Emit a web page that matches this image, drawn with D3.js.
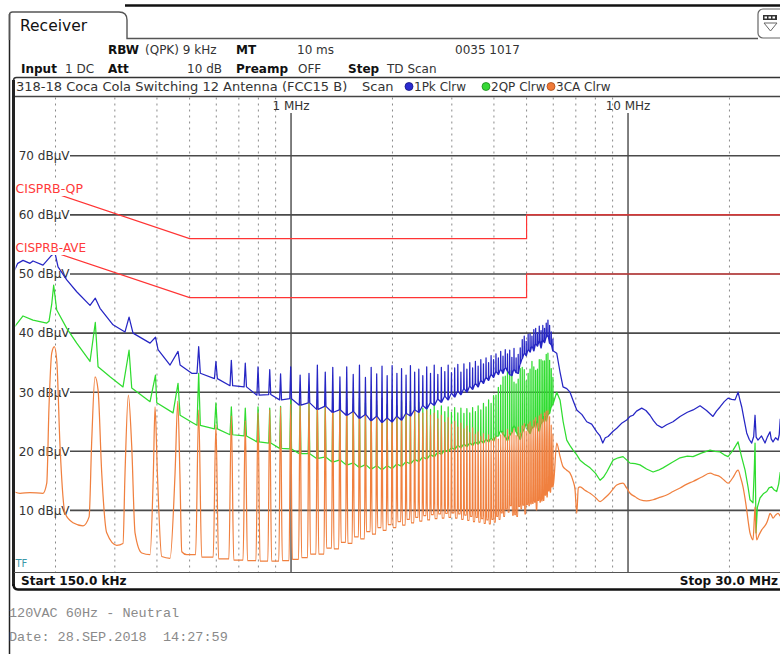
<!DOCTYPE html>
<html><head><meta charset="utf-8">
<script src="https://cdn.jsdelivr.net/npm/d3@7/dist/d3.min.js"></script>
<style>
html,body{margin:0;padding:0;background:#fff;}
svg{display:block;}
</style></head><body>
<svg id="c" width="780" height="654"></svg>
<script>
// ---------------- DATA ----------------
const yTicks = [10, 20, 30, 40, 50, 60, 70];
const yTickLabels = ["10 dBµV", "20 dBµV", "30 dBµV", "40 dBµV", "50 dBµV", "60 dBµV", "70 dBµV"];
const majorFreqs = [1, 10];
const majorFreqLabels = ["1 MHz", "10 MHz"];
const minorFreqs = [0.2, 0.3, 0.4, 0.5, 0.6, 0.7, 0.8, 0.9, 2, 3, 4, 5, 6, 7, 8, 9, 20];

const qpLimit = [[0.15, 66], [0.5, 56], [5, 56], [5, 60], [30, 60]];
const aveLimit = [[0.15, 56], [0.5, 46], [5, 46], [5, 50], [30, 50]];

// switching harmonics (fundamental read from spike spacing), harmonics 8..90
const fundamentalMHz = 0.0665;
const harmonicFirst = 8;

// 1Pk Clrw (blue)
const pkLow = [[0.150,50.2],[0.1545,51.8],[0.1602,52.3],[0.168,51.8],[0.1715,52.2],[0.1836,51.5],[0.1949,53.2],[0.1994,53.5],[0.2035,51.2],[0.2160,49.0],[0.2312,47.0],[0.2532,44.7],[0.2625,45.9],[0.2711,44.2],[0.2963,41.4],[0.3216,40.2],[0.3306,42.7],[0.3397,40.0],[0.3816,38.3],[0.3960,39.3],[0.4030,37.2],[0.4375,34.6],[0.4620,36.9],[0.4685,34.6],[0.5073,33.2]];
const pkTop = [37.7,35.2,35.4,34.9,34.3,33.8,33.1,34.3,32.9,33.2,
  34.6,33.4,34.2,32.6,34.3,33.0,34.6,32.5,34.2,33.1,
  34.4,32.8,34.5,33.2,34.0,32.9,34.5,33.4,33.9,32.8,
  34.3,33.2,34.6,33.0,34.2,33.5,34.6,33.3,34.1,34.7,
  33.4,34.8,33.9,35.0,34.1,35.2,34.4,35.5,34.8,35.8,
  35.0,36.2,35.5,36.5,35.8,36.9,36.1,37.2,36.5,37.1,
  35.9,37.4,35.8,36.4,37.5,38.9,39.5,38.6,39.8,39.9,
  39.5,40.6,40.8,40.1,41.2,40.4,41.3,40.8,41.7,42.2,
  41.3,40.2,39.0];
const pkBase = [33.2,32.3,31.1,30.9,29.5,29.6,28.7,28.9,27.8,28.2,
  27.1,27.6,26.6,27.0,26.1,26.7,25.6,26.2,25.2,25.9,
  24.9,25.6,25.0,25.9,25.3,26.4,26.0,27.0,26.6,27.7,
  27.2,28.2,27.8,28.8,28.3,29.3,28.7,29.8,29.2,30.2,
  29.6,30.6,30.0,31.0,30.5,31.5,30.9,32.0,31.5,32.5,
  32.0,33.0,32.5,33.5,33.0,33.9,33.2,34.2,33.6,33.0,
  32.8,33.9,33.3,33.2,34.8,35.7,36.6,36.2,37.2,36.8,
  37.8,37.0,38.2,37.8,38.7,37.5,38.8,38.4,39.3,39.6,
  38.3,38.0,37.0];
const pkHigh = [[6.143,36.6],[6.28,33.5],[6.414,30.9],[6.58,30.6],[6.729,30.0],[6.87,28.6],[7.045,27.0],[7.3,26.2],[7.543,25.0],[7.8,24.6],[8.077,23.3],[8.26,22.6],[8.415,21.4],[8.56,22.3],[8.725,22.5],[9.03,23.4],[9.258,23.9],[9.6,24.8],[9.911,25.3],[10.14,25.9],[10.35,26.1],[10.6,26.8],[10.98,27.3],[11.3,26.9],[11.62,26.1],[11.9,25.2],[12.17,24.5],[12.6,24.0],[13.02,24.5],[13.6,25.0],[14.27,25.9],[15.0,26.6],[15.6,27.0],[16.36,27.7],[17.1,26.9],[17.87,25.9],[18.3,26.8],[18.75,27.5],[19.3,28.4],[19.81,29.0],[20.3,28.8],[20.78,28.7],[21.21,30.0],[21.5,28.6],[21.75,27.5],[22.1,25.4],[22.5,23.1],[22.9,22.0],[23.28,21.4],[23.6,22.5],[23.82,26.1],[24.0,22.4],[24.31,21.9],[24.9,22.6],[25.5,21.4],[25.9,22.4],[26.39,23.3],[26.6,22.1],[26.93,21.6],[27.4,22.3],[27.87,21.9],[28.1,22.8],[28.3,25.5]];

// 2QP Clrw (green)
const qpLow = [[0.150,40.8],[0.1602,42.9],[0.1715,42.2],[0.1884,41.7],[0.1913,42.0],[0.1950,45.0],[0.1975,48.1],[0.2017,43.9],[0.2160,40.8],[0.2312,38.3],[0.2532,35.2],[0.2625,41.8],[0.2675,34.3],[0.2903,32.6],[0.3172,30.9],[0.3306,37.1],[0.3367,30.7],[0.3816,28.4],[0.3960,32.9],[0.3995,28.2],[0.4466,26.5],[0.4620,31.5],[0.4685,26.1],[0.5119,24.8]];
const qpTop = [33.2,28.2,27.5,27.3,27.5,27.3,27.6,28.7,28.2,28.5,
  28.8,28.0,29.0,28.1,28.9,27.9,29.0,28.2,28.8,27.8,
  28.9,28.0,28.7,27.7,28.6,27.6,28.5,27.5,28.3,27.3,
  28.1,27.1,27.9,26.9,27.7,26.7,27.5,26.6,27.4,26.5,
  27.3,26.4,27.2,26.5,27.4,26.7,27.7,27.0,28.1,27.5,
  28.7,28.1,29.4,29.5,30.8,31.2,32.6,32.7,33.8,33.7,
  33.4,31.7,31.4,32.2,34.0,34.2,33.8,31.9,33.2,33.9,
  35.2,34.3,33.7,33.9,35.5,35.5,35.3,35.3,36.4,36.6,
  35.4,34.0,32.5];
const qpBase = [24.4,23.8,22.8,22.6,21.6,21.4,20.5,20.4,19.6,19.6,
  18.8,19.0,18.2,18.5,17.7,18.0,17.3,17.7,17.0,17.5,
  16.9,17.5,17.1,17.8,17.5,18.2,17.9,18.6,18.3,19.0,
  18.7,19.4,19.1,19.8,19.5,20.2,19.9,20.6,20.3,21.0,
  20.6,21.2,20.8,21.4,21.0,21.6,21.2,21.8,21.4,22.0,
  21.6,22.2,21.8,22.5,22.6,23.5,22.9,22.4,21.8,22.7,
  23.1,24.4,23.3,22.6,22.0,23.2,23.8,24.7,23.5,23.0,
  23.9,24.1,25.2,23.9,23.4,24.7,25.0,26.0,25.1,26.2,
  26.4,27.5,28.0];
const qpHigh = [[6.143,30.0],[6.284,28.7],[6.42,25.0],[6.579,21.9],[6.72,21.0],[6.869,20.2],[7.045,19.4],[7.206,18.5],[7.45,17.8],[7.716,17.2],[8.0,16.3],[8.261,15.1],[8.45,15.6],[8.647,16.5],[9.027,18.5],[9.35,18.9],[9.665,19.1],[10.14,18.0],[10.5,17.9],[10.85,17.7],[11.35,17.0],[11.87,16.5],[12.3,16.8],[12.70,17.2],[13.5,18.1],[14.27,18.9],[15.0,19.2],[15.59,19.1],[16.5,19.7],[17.52,20.2],[18.1,20.0],[18.75,19.9],[19.3,19.4],[19.81,19.1],[20.5,20.2],[21.21,21.6],[21.7,19.2],[22.25,16.8],[22.7,14.0],[23.01,11.8],[23.49,11.3],[23.70,17.0],[23.82,21.4],[23.90,14.0],[23.98,6.2],[24.2,10.5],[24.64,12.1],[25.2,12.8],[25.80,13.2],[26.2,13.8],[26.69,14.0],[27.1,13.5],[27.62,13.2],[28.0,14.5],[28.3,16.5]];

// 3CA Clrw (orange)
const caLow = [[0.150,13.2],[0.157,12.9],[0.168,13.0],[0.1836,12.9],[0.1884,14.6],[0.1913,27.5],[0.1949,36.6],[0.1984,37.7],[0.2017,35.4],[0.2063,20.8],[0.2135,9.5],[0.2254,7.9],[0.2414,7.4],[0.2516,8.9],[0.2562,21.9],[0.2620,32.6],[0.2675,30.4],[0.2743,16.3],[0.2838,6.2],[0.3039,4.1],[0.3172,4.4],[0.3216,16.3],[0.3290,29.5],[0.3367,20.8],[0.3444,6.2],[0.3606,2.8],[0.3816,2.5],[0.3903,16.3],[0.3948,27.5],[0.4012,16.3],[0.4133,2.2],[0.4375,1.9],[0.4527,16.3],[0.4612,28.5],[0.4680,16.0],[0.4740,3.0],[0.4903,2.5]];
const caTop = [27.0,24.5,26.0,25.2,26.5,27.0,27.5,28.0,28.6,29.0,
  29.4,28.8,30.0,29.2,29.9,29.1,29.8,28.8,29.4,28.6,
  29.1,28.0,28.9,27.8,28.4,27.4,27.9,27.1,27.5,26.6,
  27.0,26.2,26.6,25.6,26.2,25.0,25.8,24.7,25.2,24.2,
  24.9,23.9,24.4,23.3,24.1,23.0,23.4,22.6,23.1,22.2,
  22.9,22.0,22.3,22.6,22.2,22.9,23.3,22.6,23.8,22.9,
  23.3,23.9,22.8,24.2,23.2,24.4,24.8,23.5,24.7,25.1,
  24.3,25.4,25.8,24.8,26.1,26.4,25.5,26.6,26.9,27.0,
  26.0,24.5,23.0];
const caBase = [2.5,2.1,1.8,1.6,1.5,1.4,1.4,1.5,1.7,2.0,
  2.6,2.6,3.6,3.5,4.6,4.4,5.5,5.2,6.4,6.0,
  7.1,6.6,7.6,7.1,8.1,7.5,8.5,7.9,8.8,8.2,
  9.1,8.4,9.3,8.6,9.4,8.7,9.5,8.8,9.6,8.7,
  9.4,8.5,9.2,8.3,9.0,8.1,8.8,8.0,8.6,7.8,
  8.4,7.7,8.5,8.0,9.0,8.5,9.6,9.0,10.2,9.7,
  10.8,9.2,9.3,9.0,10.7,10.3,10.9,9.4,11.0,10.8,
  11.1,11.2,11.4,10.1,11.7,11.4,11.6,11.7,12.6,12.3,
  13.3,13.1,14.0];
const caHigh = [[6.143,21.4],[6.28,19.2],[6.414,17.4],[6.58,16.8],[6.729,16.3],[6.869,15.0],[6.963,13.5],[7.045,9.5],[7.12,13.8],[7.206,14.0],[7.45,13.4],[7.716,12.9],[8.0,12.2],[8.261,11.5],[8.5,12.0],[8.725,12.6],[9.027,13.6],[9.258,14.3],[9.665,14.6],[9.9,13.8],[10.14,12.9],[10.5,12.3],[10.85,11.8],[11.35,11.6],[11.87,11.8],[12.4,12.2],[13.02,12.6],[13.6,13.2],[14.27,13.8],[14.9,14.4],[15.59,14.9],[16.5,15.6],[17.52,16.3],[18.1,16.0],[18.75,15.7],[19.3,15.1],[19.81,14.6],[20.5,15.6],[21.21,16.8],[21.6,15.5],[21.94,14.0],[22.25,12.0],[22.50,10.1],[22.75,8.0],[23.01,6.2],[23.25,5.4],[23.49,5.0],[23.70,8.5],[23.82,10.6],[23.95,7.0],[24.09,5.0],[24.5,5.9],[24.93,6.7],[25.4,7.3],[25.80,7.9],[26.1,8.7],[26.39,9.5],[26.65,9.2],[26.93,8.7],[27.4,9.2],[27.87,9.5],[28.3,9.0]];

// ---------------- DRAW ----------------
const svg = d3.select("#c");
const W = 780;
const x = d3.scaleLog().domain([0.15, 30]).range([13.4, 788.8]);
const y = d3.scaleLinear().domain([0, 80]).range([569.5, 96.7]);
const plotTop = 96.5, plotBot = 572, plotLeft = 14.5;

const FONT = "'DejaVu Sans', Verdana, sans-serif";

// outer frame
svg.append("line").attr("x1", 9.5).attr("x2", 9.5).attr("y1", 14).attr("y2", 654)
  .attr("stroke", "#222").attr("stroke-width", 1.5);
svg.append("line").attr("x1", 125).attr("x2", W).attr("y1", 5.5).attr("y2", 5.5)
  .attr("stroke", "#111").attr("stroke-width", 2.5);
// tab
svg.append("path").attr("d", "M9.5,40 L9.5,15 Q9.5,12 12.5,12 L119,12 Q127,12 127,20 L127,38.5 L758,38.5")
  .attr("fill", "none").attr("stroke", "#555").attr("stroke-width", 1.4);
svg.append("text").attr("x", 20).attr("y", 31).attr("font-family", FONT).attr("font-size", 15.5)
  .attr("fill", "#111").text("Receiver");
// icon
svg.append("rect").attr("x", 758).attr("y", 9).attr("width", 28).attr("height", 29).attr("rx", 5)
  .attr("fill", "#fff").attr("stroke", "#666").attr("stroke-width", 1.2);
svg.append("rect").attr("x", 763).attr("y", 15).attr("width", 14).attr("height", 5).attr("fill", "#333");
[764.5, 768.5, 772.5].forEach(cx => svg.append("rect").attr("x", cx).attr("y", 16.5).attr("width", 2.5).attr("height", 2).attr("fill", "#fff"));
svg.append("path").attr("d", "M764,23 L777,23 L770.5,31 Z").attr("fill", "none").attr("stroke", "#666").attr("stroke-width", 1);

// header rows
function txt(xp, yp, s, opt = {}) {
  return svg.append("text").attr("x", xp).attr("y", yp).attr("font-family", opt.family || FONT)
    .attr("font-size", opt.size || 12).attr("font-weight", opt.bold ? "bold" : "normal")
    .attr("fill", opt.fill || "#333").attr("text-anchor", opt.anchor || "start").text(s);
}
txt(108, 54, "RBW", {bold: true, fill: "#111"});
txt(145, 54, "(QPK) 9 kHz");
txt(236, 54, "MT", {bold: true, fill: "#111"});
txt(297, 54, "10 ms");
txt(455, 54, "0035 1017");
txt(21, 73, "Input", {bold: true, fill: "#111"});
txt(65, 73, "1 DC");
txt(108, 73, "Att", {bold: true, fill: "#111"});
txt(222, 73, "10 dB", {anchor: "end"});
txt(236, 73, "Preamp", {bold: true, fill: "#111"});
txt(298, 73, "OFF");
txt(348, 73, "Step", {bold: true, fill: "#111"});
txt(387, 73, "TD Scan");

// row 3 box
svg.append("path").attr("d", `M13.5,96 L13.5,80.5 Q13.5,77.5 16.5,77.5 L${W},77.5`)
  .attr("fill", "none").attr("stroke", "#333").attr("stroke-width", 1.6);
txt(16, 91, "318-18 Coca Cola Switching 12 Antenna (FCC15 B)", {size: 13});
txt(362, 91, "Scan", {size: 13});
const legend = [
  {cx: 409, lx: 414, label: "1Pk Clrw", c: "#2a2ad0", s: "#141480"},
  {cx: 486, lx: 491, label: "2QP Clrw", c: "#36d836", s: "#1a8a1a"},
  {cx: 551, lx: 556, label: "3CA Clrw", c: "#f07a38", s: "#a84a18"}
];
legend.forEach(l => {
  svg.append("circle").attr("cx", l.cx).attr("cy", 86.5).attr("r", 4).attr("fill", l.c).attr("stroke", l.s).attr("stroke-width", 0.8);
  txt(l.lx, 91, l.label, {size: 12});
});

// plot frame
svg.append("line").attr("x1", 13).attr("x2", W).attr("y1", plotTop).attr("y2", plotTop)
  .attr("stroke", "#444").attr("stroke-width", 1.5);

// grid: minor dashed verticals
svg.append("g").selectAll("line").data(minorFreqs).join("line")
  .attr("x1", d => x(d)).attr("x2", d => x(d)).attr("y1", plotTop + 1).attr("y2", plotBot)
  .attr("stroke", "#8a8a8a").attr("stroke-width", 1).attr("stroke-dasharray", "2,4");
// major verticals
svg.append("g").selectAll("line").data(majorFreqs).join("line")
  .attr("x1", d => x(d)).attr("x2", d => x(d)).attr("y1", 113).attr("y2", plotBot)
  .attr("stroke", "#555").attr("stroke-width", 1.5);
svg.append("g").selectAll("text").data(majorFreqs).join("text")
  .attr("x", d => x(d)).attr("y", 110).attr("text-anchor", "middle")
  .attr("font-family", FONT).attr("font-size", 12).attr("fill", "#333")
  .text((d, i) => majorFreqLabels[i]);
// horizontal grid
svg.append("g").selectAll("line").data(yTicks).join("line")
  .attr("x1", 70).attr("x2", W).attr("y1", d => y(d)).attr("y2", d => y(d))
  .attr("stroke", "#4a4a4a").attr("stroke-width", 1.6);
svg.append("g").selectAll("text").data(yTicks).join("text")
  .attr("x", 69.5).attr("y", d => y(d) + 4.3).attr("text-anchor", "end")
  .attr("font-family", FONT).attr("font-size", 12).attr("fill", "#333")
  .text((d, i) => yTickLabels[i]);

// clip
svg.append("defs").append("clipPath").attr("id", "plotclip")
  .append("rect").attr("x", plotLeft + 1).attr("y", plotTop + 0.5).attr("width", W).attr("height", plotBot - plotTop - 0.5);
const plot = svg.append("g").attr("clip-path", "url(#plotclip)");

// limit lines
const lineLin = d3.line().x(d => x(d[0])).y(d => y(d[1]));
[qpLimit, aveLimit].forEach(L => plot.append("path").attr("d", lineLin(L))
  .attr("fill", "none").attr("stroke", "#ff3434").attr("stroke-width", 1.2));
// limit labels with white background
const labelLayer = svg.append("g");
[["CISPRB-QP", 193, 12.5], ["CISPRB-AVE", 252, 12]].forEach(([s, by, fs]) => {
  const bg = labelLayer.append("rect");
  const t = labelLayer.append("text").attr("x", 15.5).attr("y", by).attr("font-family", FONT)
    .attr("font-size", fs).attr("fill", "#ff3a3a").text(s);
  const w = t.node().getComputedTextLength();
  bg.attr("x", 15).attr("y", by - 14.5).attr("width", w + 1.5).attr("height", 17.5).attr("fill", "#fff");
});

// traces
function spikeTrace(low, top, base, high, half) {
  const pts = low.slice();
  top.forEach((t, i) => {
    const f = (harmonicFirst + i) * fundamentalMHz;
    pts.push([f - half, base[i]], [f, t], [f + half, base[i]]);
  });
  return pts.concat(high);
}
function bellTrace(low, top, base, high, half) {
  const pts = low.slice();
  top.forEach((t, i) => {
    const f = (harmonicFirst + i) * fundamentalMHz;
    const bn = i + 1 < base.length ? base[i + 1] : base[i];
    pts.push([f - half, base[i]], [f, t], [f + half, bn]);
  });
  return pts.concat(high);
}
const lineMono = d3.line().x(d => x(d[0])).y(d => y(d[1])).curve(d3.curveMonotoneX);

plot.append("path").attr("d", lineLin(spikeTrace(qpLow, qpTop, qpBase, qpHigh, 0.006)))
  .attr("fill", "none").attr("stroke", "#30dc30").attr("stroke-width", 1.25).attr("stroke-linejoin", "round");
plot.append("path").attr("d", lineMono(bellTrace(caLow, caTop, caBase, caHigh, 0.011)))
  .attr("fill", "none").attr("stroke", "#f0803f").attr("stroke-width", 1.25).attr("stroke-linejoin", "round");
plot.append("path").attr("d", lineLin(spikeTrace(pkLow, pkTop, pkBase, pkHigh, 0.006)))
  .attr("fill", "none").attr("stroke", "#2626c4").attr("stroke-width", 1.25).attr("stroke-linejoin", "round");

// TF
txt(15.5, 567, "TF", {size: 10, fill: "#3c98a8"});

// left thick border
svg.append("line").attr("x1", 13.5).attr("x2", 13.5).attr("y1", 80).attr("y2", 586)
  .attr("stroke", "#222").attr("stroke-width", 3);
// status bar
svg.append("line").attr("x1", 14).attr("x2", W).attr("y1", plotBot + 0.5).attr("y2", plotBot + 0.5)
  .attr("stroke", "#555").attr("stroke-width", 1.2);
svg.append("path").attr("d", `M13.5,584 Q13.5,589.5 18,589.5 L${W},589.5`)
  .attr("fill", "none").attr("stroke", "#111").attr("stroke-width", 2.5);
txt(21, 585, "Start 150.0 kHz", {bold: true, fill: "#111"});
txt(778, 585, "Stop 30.0 MHz", {bold: true, fill: "#111", anchor: "end"});

// footer
const MONO = "'Liberation Mono', 'DejaVu Sans Mono', monospace";
txt(9, 617, "120VAC 60Hz - Neutral", {family: MONO, size: 13.5, fill: "#8a8a8a"});
txt(9, 641, "Date: 28.SEP.2018  14:27:59", {family: MONO, size: 13.5, fill: "#8a8a8a"}).style("white-space", "pre");
</script>
</body></html>
